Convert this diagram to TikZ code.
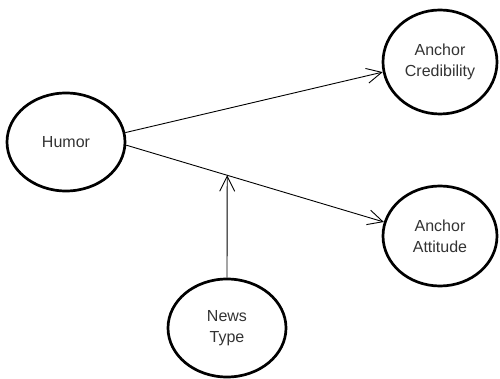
\documentclass[tikz,border=0pt]{standalone}
\usepackage{fontspec}
\setmainfont{Liberation Sans}
\usetikzlibrary{shapes.geometric,arrows.meta,calc}
\begin{document}
\begin{tikzpicture}[x=1pt,y=-1pt,
  var/.style={ellipse,draw=black,line width=2.7pt,text=black!80,
    font=\fontsize{16}{21}\selectfont,align=center,inner sep=0pt},
  conn/.style={line width=0.9pt,-{Straight Barb[length=15pt,width=15pt,line width=0.9pt]}}]
\useasboundingbox (0,0) rectangle (500,379);
\node[var,minimum width=118pt,minimum height=98pt] (h) at (66,142) {Humor};
\node[var,minimum width=114pt,minimum height=104pt] (c) at (440,62) {Anchor\\Credibility};
\node[var,minimum width=114pt,minimum height=100pt] (a) at (440,236) {Anchor\\Attitude};
\node[var,minimum width=118pt,minimum height=98pt] (n) at (227,328) {News\\Type};
\draw[conn] (h.9) -- (c.190);
\draw[conn] (h.-3) -- (a.166);
\coordinate (m) at ($(h.-3)!0.392!(a.166)$);
\draw[conn] (n.north) -- (m);
\end{tikzpicture}
\end{document}
